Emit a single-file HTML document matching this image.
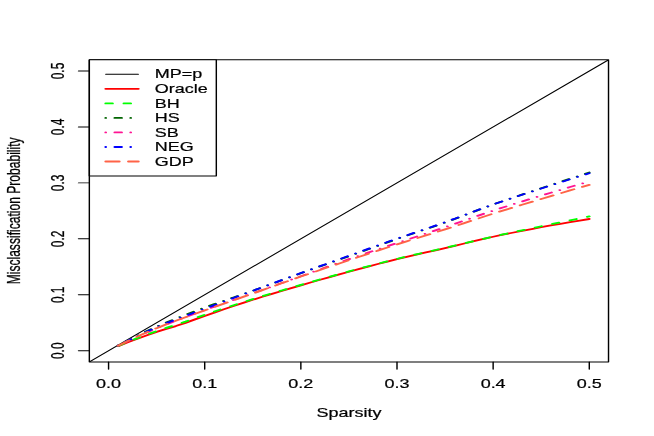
<!DOCTYPE html><html><head><meta charset="utf-8"><style>html,body{margin:0;padding:0;background:#fff}svg{display:block}text{font-family:"Liberation Sans",sans-serif;font-size:12px;fill:#000;stroke:#000;stroke-width:0.2px}</style></head><body>
<svg width="654" height="436" viewBox="0 0 436 436" preserveAspectRatio="none">
<rect x="0" y="0" width="436" height="436" fill="#fff"/>
<defs><clipPath id="c"><rect x="59.56" y="59.79" width="346.12" height="302.14"/></clipPath></defs>
<g fill="none" stroke-linecap="round" stroke-linejoin="round">
<g clip-path="url(#c)">
<path d="M53.15 367.53 L412.09 54.19" stroke="#000" stroke-width="0.950"/>
<path d="M78.79 346.15 L85.20 342.31 L91.61 338.67 L98.01 335.21 L104.42 331.92 L110.83 328.92 L117.24 326.06 L123.65 322.88 L130.06 319.39 L136.47 315.92 L142.88 312.59 L149.29 309.30 L155.70 306.06 L162.11 302.88 L168.52 299.79 L174.93 296.78 L181.34 293.84 L187.75 290.96 L194.16 288.13 L200.57 285.32 L206.98 282.54 L213.39 279.79 L219.80 277.08 L226.21 274.41 L232.62 271.77 L239.03 269.16 L245.44 266.57 L251.85 264.02 L258.26 261.54 L264.67 259.13 L271.08 256.84 L277.49 254.63 L283.90 252.47 L290.31 250.31 L296.72 248.11 L303.12 245.83 L309.53 243.50 L315.94 241.18 L322.35 238.91 L328.76 236.77 L335.17 234.73 L341.58 232.76 L347.99 230.86 L354.40 229.02 L360.81 227.23 L367.22 225.48 L373.63 223.78 L380.04 222.14 L386.45 220.54 L392.86 219.00" stroke="#FF0000" stroke-width="1.800"/>
<path d="M78.79 345.87 L85.20 341.91 L91.61 338.14 L98.01 334.54 L104.42 331.10 L110.83 327.93 L117.24 324.90 L123.65 321.66 L130.06 318.21 L136.47 314.82 L142.88 311.56 L149.29 308.35 L155.70 305.20 L162.11 302.12 L168.52 299.10 L174.93 296.15 L181.34 293.27 L187.75 290.45 L194.16 287.66 L200.57 284.88 L206.98 282.13 L213.39 279.39 L219.80 276.69 L226.21 274.02 L232.62 271.40 L239.03 268.81 L245.44 266.25 L251.85 263.72 L258.26 261.26 L264.67 258.87 L271.08 256.56 L277.49 254.34 L283.90 252.16 L290.31 249.99 L296.72 247.79 L303.12 245.54 L309.53 243.28 L315.94 241.02 L322.35 238.78 L328.76 236.60 L335.17 234.47 L341.58 232.37 L347.99 230.31 L354.40 228.27 L360.81 226.25 L367.22 224.24 L373.63 222.26 L380.04 220.30 L386.45 218.37 L392.86 216.45" stroke="#00FF00" stroke-width="1.800" stroke-dasharray="4.542 7.569"/>
<path d="M78.79 345.54 L85.20 340.51 L91.61 335.67 L98.01 331.05 L104.42 326.68 L110.83 322.56 L117.24 318.63 L123.65 314.86 L130.06 311.19 L136.47 307.60 L142.88 304.12 L149.29 300.77 L155.70 297.48 L162.11 294.19 L168.52 290.81 L174.93 287.34 L181.34 283.82 L187.75 280.27 L194.16 276.74 L200.57 273.25 L206.98 269.81 L213.39 266.41 L219.80 263.03 L226.21 259.64 L232.62 256.24 L239.03 252.79 L245.44 249.32 L251.85 245.85 L258.26 242.41 L264.67 239.00 L271.08 235.68 L277.49 232.42 L283.90 229.17 L290.31 225.88 L296.72 222.50 L303.12 218.96 L309.53 215.31 L315.94 211.63 L322.35 207.99 L328.76 204.48 L335.17 201.12 L341.58 197.84 L347.99 194.63 L354.40 191.44 L360.81 188.25 L367.22 185.07 L373.63 181.90 L380.04 178.76 L386.45 175.64 L392.86 172.53" stroke="#006400" stroke-width="1.800" stroke-dasharray="0.010 6.056 4.542 6.056"/>
<path d="M78.79 345.59 L85.20 341.01 L91.61 336.58 L98.01 332.32 L104.42 328.25 L110.83 324.37 L117.24 320.66 L123.65 317.07 L130.06 313.55 L136.47 310.06 L142.88 306.62 L149.29 303.26 L155.70 299.95 L162.11 296.63 L168.52 293.28 L174.93 289.88 L181.34 286.47 L187.75 283.05 L194.16 279.63 L200.57 276.21 L206.98 272.78 L213.39 269.34 L219.80 265.90 L226.21 262.50 L232.62 259.15 L239.03 255.86 L245.44 252.62 L251.85 249.41 L258.26 246.22 L264.67 243.03 L271.08 239.86 L277.49 236.71 L283.90 233.57 L290.31 230.40 L296.72 227.20 L303.12 223.91 L309.53 220.55 L315.94 217.18 L322.35 213.85 L328.76 210.63 L335.17 207.53 L341.58 204.49 L347.99 201.50 L354.40 198.56 L360.81 195.64 L367.22 192.74 L373.63 189.88 L380.04 187.05 L386.45 184.25 L392.86 181.48" stroke="#FF1493" stroke-width="1.800" stroke-dasharray="0.010 6.056 4.542 6.056"/>
<path d="M78.79 345.59 L85.20 340.69 L91.61 335.98 L98.01 331.49 L104.42 327.24 L110.83 323.26 L117.24 319.51 L123.65 315.88 L130.06 312.32 L136.47 308.72 L142.88 305.10 L149.29 301.51 L155.70 297.94 L162.11 294.37 L168.52 290.81 L174.93 287.25 L181.34 283.69 L187.75 280.13 L194.16 276.59 L200.57 273.08 L206.98 269.59 L213.39 266.12 L219.80 262.67 L226.21 259.23 L232.62 255.79 L239.03 252.34 L245.44 248.89 L251.85 245.46 L258.26 242.04 L264.67 238.67 L271.08 235.35 L277.49 232.10 L283.90 228.85 L290.31 225.58 L296.72 222.22 L303.12 218.72 L309.53 215.13 L315.94 211.50 L322.35 207.93 L328.76 204.48 L335.17 201.17 L341.58 197.95 L347.99 194.78 L354.40 191.65 L360.81 188.53 L367.22 185.43 L373.63 182.34 L380.04 179.29 L386.45 176.26 L392.86 173.26" stroke="#0000FF" stroke-width="1.800" stroke-dasharray="0.010 6.056 4.542 6.056"/>
<path d="M78.79 345.70 L85.20 341.04 L91.61 336.55 L98.01 332.25 L104.42 328.19 L110.83 324.37 L117.24 320.75 L123.65 317.26 L130.06 313.83 L136.47 310.40 L142.88 306.97 L149.29 303.60 L155.70 300.26 L162.11 296.92 L168.52 293.56 L174.93 290.15 L181.34 286.73 L187.75 283.30 L194.16 279.90 L200.57 276.55 L206.98 273.24 L213.39 269.96 L219.80 266.71 L226.21 263.48 L232.62 260.26 L239.03 257.06 L245.44 253.86 L251.85 250.68 L258.26 247.54 L264.67 244.43 L271.08 241.38 L277.49 238.39 L283.90 235.41 L290.31 232.42 L296.72 229.38 L303.12 226.26 L309.53 223.09 L315.94 219.90 L322.35 216.74 L328.76 213.66 L335.17 210.65 L341.58 207.69 L347.99 204.77 L354.40 201.88 L360.81 199.00 L367.22 196.13 L373.63 193.27 L380.04 190.44 L386.45 187.63 L392.86 184.84" stroke="#FF6347" stroke-width="1.800" stroke-dasharray="9.083 6.056"/>
</g>
<rect x="59.56" y="59.79" width="346.12" height="302.14" stroke="#000" stroke-width="0.950"/>
<path d="M72.38 361.93 L72.38 369.20 M59.56 350.74 L52.29 350.74 M136.47 361.93 L136.47 369.20 M59.56 294.79 L52.29 294.79 M200.57 361.93 L200.57 369.20 M59.56 238.83 L52.29 238.83 M264.67 361.93 L264.67 369.20 M59.56 182.88 L52.29 182.88 M328.76 361.93 L328.76 369.20 M59.56 126.93 L52.29 126.93 M392.86 361.93 L392.86 369.20 M59.56 70.98 L52.29 70.98" stroke="#000" stroke-width="0.950"/>
<rect x="59.56" y="59.79" width="84.65" height="116.27" fill="#fff" stroke="#000" stroke-width="0.950"/>
<path d="M70.46 74.32 L92.26 74.32" stroke="#000" stroke-width="0.950"/>
<path d="M70.46 88.85 L92.26 88.85" stroke="#FF0000" stroke-width="1.800"/>
<path d="M70.46 103.39 L92.26 103.39" stroke="#00FF00" stroke-width="1.800" stroke-dasharray="4.542 7.569"/>
<path d="M70.46 117.92 L92.26 117.92" stroke="#006400" stroke-width="1.800" stroke-dasharray="0.010 6.056 4.542 6.056"/>
<path d="M70.46 132.45 L92.26 132.45" stroke="#FF1493" stroke-width="1.800" stroke-dasharray="0.010 6.056 4.542 6.056"/>
<path d="M70.46 146.99 L92.26 146.99" stroke="#0000FF" stroke-width="1.800" stroke-dasharray="0.010 6.056 4.542 6.056"/>
<path d="M70.46 161.52 L92.26 161.52" stroke="#FF6347" stroke-width="1.800" stroke-dasharray="9.083 6.056"/>
</g>
<g opacity="0.999">
<text x="103.16" y="78.47">MP=p</text>
<text x="103.16" y="93.00">Oracle</text>
<text x="103.16" y="107.54">BH</text>
<text x="103.16" y="122.07">HS</text>
<text x="103.16" y="136.60">SB</text>
<text x="103.16" y="151.14">NEG</text>
<text x="103.16" y="165.67">GDP</text>
<text x="72.38" y="388.09" text-anchor="middle">0.0</text>
<text transform="translate(42.55 350.74) rotate(-90)" text-anchor="middle">0.0</text>
<text x="136.47" y="388.09" text-anchor="middle">0.1</text>
<text transform="translate(42.55 294.79) rotate(-90)" text-anchor="middle">0.1</text>
<text x="200.57" y="388.09" text-anchor="middle">0.2</text>
<text transform="translate(42.55 238.83) rotate(-90)" text-anchor="middle">0.2</text>
<text x="264.67" y="388.09" text-anchor="middle">0.3</text>
<text transform="translate(42.55 182.88) rotate(-90)" text-anchor="middle">0.3</text>
<text x="328.76" y="388.09" text-anchor="middle">0.4</text>
<text transform="translate(42.55 126.93) rotate(-90)" text-anchor="middle">0.4</text>
<text x="392.86" y="388.09" text-anchor="middle">0.5</text>
<text transform="translate(42.55 70.98) rotate(-90)" text-anchor="middle">0.5</text>
<text x="232.62" y="416.60" text-anchor="middle">Sparsity</text>
<text transform="translate(13.07 210.86) rotate(-90)" text-anchor="middle" textLength="147" lengthAdjust="spacingAndGlyphs">Misclassification Probability</text>
</g>
</svg></body></html>
